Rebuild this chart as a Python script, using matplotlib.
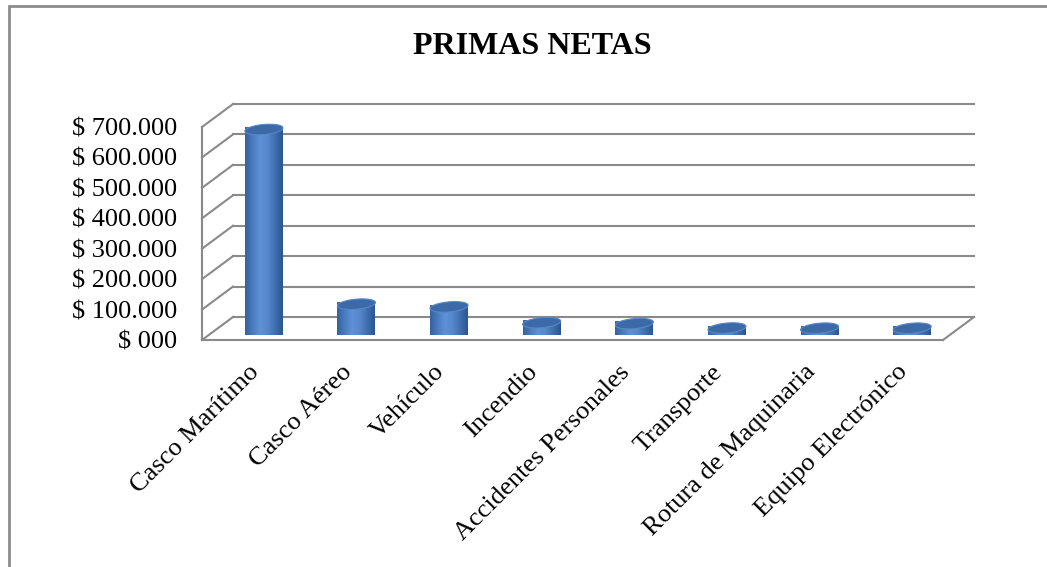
import matplotlib
matplotlib.use("Agg")
import matplotlib.pyplot as plt
import numpy as np
from matplotlib.patches import PathPatch, Polygon, Rectangle
from matplotlib.path import Path
from matplotlib.colors import LinearSegmentedColormap
from matplotlib.ticker import FuncFormatter

# data
categories = ["Casco Marítimo", "Casco Aéreo", "Vehículo", "Incendio",
              "Accidentes Personales", "Transporte", "Rotura de Maquinaria",
              "Equipo Electrónico"]
primas = [654000, 80000, 71000, 19000, 16000, 1500, 1000, 1000]
y_ticks = [0, 100000, 200000, 300000, 400000, 500000, 600000, 700000]
title = "PRIMAS NETAS"

plt.rcParams['font.family'] = ['Liberation Serif', 'DejaVu Serif']

W, H = 1047, 567
fig = plt.figure(figsize=(W / 100, H / 100), dpi=100)
ax = fig.add_axes([202 / W, 1 - 340 / H, 741 / W, 213 / H])
n = len(categories)

# depth of the fake 3d box, in data units
DX = 0.335
DY = 75600
grid_kw = dict(color="#8a8a8a", lw=1.5, clip_on=False, zorder=1)

x0, x1 = -0.5, n - 0.5
for v in y_ticks:
    # back wall gridline + side wall diagonal
    ax.plot([x0 + DX, x1 + DX], [v + DY, v + DY], **grid_kw)
    ax.plot([x0, x0 + DX], [v, v + DY], **grid_kw)
ax.plot([x0, x0], [0, y_ticks[-1]], **grid_kw)
# floor
ax.plot([x0, x1], [0, 0], **grid_kw)
ax.plot([x1, x1 + DX], [0, DY], **grid_kw)

# cylinders, slightly tilted ellipses
cmap = LinearSegmentedColormap.from_list(
    "cyl", ["#34619f", "#4a7bbf", "#5e91d7", "#5687cc", "#3f6eb0", "#2b5590"])
grad = np.linspace(0, 1, 256).reshape(1, -1)
hw = 0.205
eh = 16500
tilt = 26000
t_lo = np.linspace(np.pi, 2 * np.pi, 40)
t_all = np.linspace(0, 2 * np.pi, 80)
for i, v in enumerate(primas):
    xc = i + DX / 2
    yb = DY / 2
    yt = yb + v
    ex = hw * np.cos(t_lo)
    verts = [(xc - hw, yt - tilt * hw)]
    verts += list(zip(xc + ex, yb + eh * np.sin(t_lo) + tilt * ex))
    verts += [(xc + hw, yt + tilt * hw), (xc - hw, yt - tilt * hw)]
    codes = [Path.MOVETO] + [Path.LINETO] * (len(verts) - 2) + [Path.CLOSEPOLY]
    body = PathPatch(Path(verts, codes), facecolor="none", edgecolor="none",
                     zorder=3, clip_on=False)
    ax.add_patch(body)
    im = ax.imshow(grad, cmap=cmap, aspect="auto", zorder=3,
                   extent=(xc - hw, xc + hw, yb - eh - tilt * hw, yt + tilt * hw),
                   clip_on=False)
    im.set_clip_path(body)
    ex = hw * np.cos(t_all)
    top = np.column_stack([xc + ex, yt + eh * np.sin(t_all) + tilt * ex])
    ax.add_patch(Polygon(top, closed=True, facecolor="#3c69a8",
                         edgecolor="#5787c6", lw=0.8, zorder=4, clip_on=False))

ax.set_xlim(-0.5, n - 0.5)
ax.set_ylim(0, y_ticks[-1])

ax.set_yticks(y_ticks)
ax.yaxis.set_major_formatter(FuncFormatter(
    lambda v, p: "$ 000" if v == 0 else "$ " + f"{int(v):,}".replace(",", ".")))
ax.set_xticks(range(n))
ax.set_xticklabels(categories, rotation=45, ha="right", rotation_mode="anchor")
ax.tick_params(axis="y", length=0, pad=18, labelsize=19)
ax.tick_params(axis="x", length=0, pad=15, labelsize=19)
for s in ax.spines.values():
    s.set_visible(False)
ax.patch.set_visible(False)

fig.text(532 / W, 1 - 46 / H, title, ha="center", va="center",
         fontsize=23, fontweight="bold")

fig.patches.append(Rectangle((9 / W, -0.1), 1.2, 1.1 - 6 / H, fill=False,
                             edgecolor="#8c8c8c", lw=2,
                             transform=fig.transFigure, figure=fig))

fig.savefig("out.png", dpi=100)
